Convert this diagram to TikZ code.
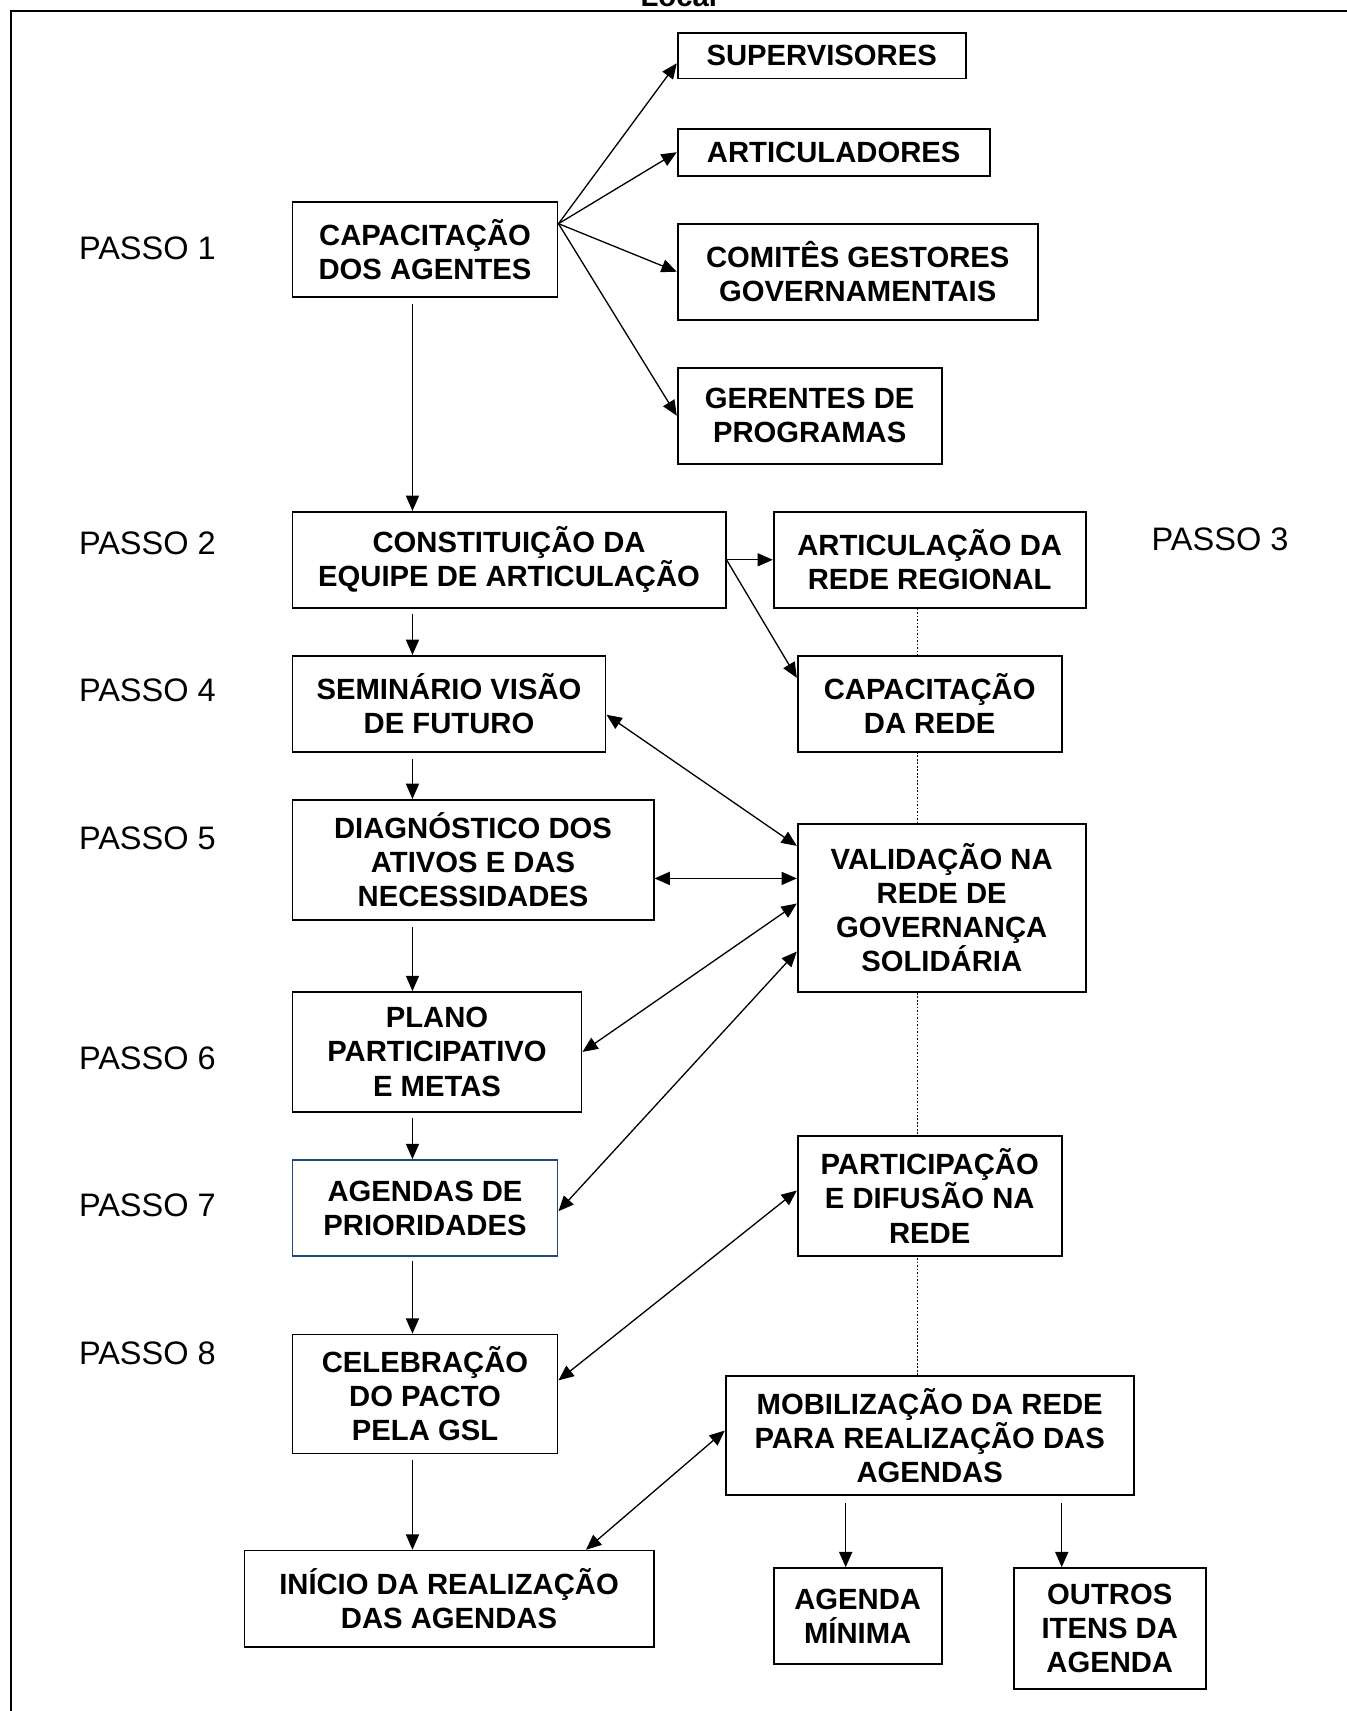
\documentclass[tikz,border=0pt]{standalone}
\usepackage{fontspec}
\setmainfont{Liberation Sans}
\usetikzlibrary{arrows.meta,calc}
\pgfdeclarelayer{bg}
\pgfsetlayers{bg,main}
\definecolor{agblue}{RGB}{31,73,125}
\begin{document}
\begin{tikzpicture}[x=0.5pt,y=-0.5pt,
  box/.style={draw, line width=0.8pt, fill=white, align=center, inner sep=0pt,
    font=\fontsize{13.4}{15.6}\selectfont\bfseries},
  arr/.style={-{Triangle[length=7pt,width=6pt]}, line width=0.6pt},
  darr/.style={{Triangle[length=7pt,width=6pt]}-{Triangle[length=7pt,width=6pt]}, line width=0.6pt},
  passo/.style={anchor=west, inner sep=0pt, font=\fontsize{14.9}{17}\selectfont}]
\useasboundingbox (0,0) rectangle (1234,1568);

% frame and cut-off title
\draw[line width=0.9pt] (10,10) rectangle (1300,1650);
\node[font=\fontsize{13.4}{16}\selectfont\bfseries, anchor=base, inner sep=0pt] (loc) at (622,6) {Local};

% step labels
\node[passo] (p1) at (72,228) {PASSO 1};
\node[passo] (p2) at (72,498) {PASSO 2};
\node[passo] (p3) at (1055,494) {PASSO 3};
\node[passo] (p4) at (72,633) {PASSO 4};
\node[passo] (p5) at (72,768) {PASSO 5};
\node[passo] (p6) at (72,970) {PASSO 6};
\node[passo] (p7) at (72,1105) {PASSO 7};
\node[passo] (p8) at (72,1240) {PASSO 8};

% boxes
\node[box, minimum width=132pt, minimum height=21pt] (sup) at (753,51) {SUPERVISORES};
\node[box, minimum width=143pt, minimum height=21.5pt] (art) at (764,139.5) {ARTICULADORES};
\node[box, minimum width=121.5pt, minimum height=43.5pt] (cap) at (389.5,228.5) {CAPACITAÇÃO\\DOS AGENTES};
\node[box, minimum width=165pt, minimum height=44pt] (com) at (786,249) {COMITÊS GESTORES\\GOVERNAMENTAIS};
\node[box, minimum width=121pt, minimum height=44pt] (ger) at (742,381) {GERENTES DE\\PROGRAMAS};
\node[box, minimum width=198.5pt, minimum height=44pt] (con) at (466.5,513) {CONSTITUIÇÃO DA\\EQUIPE DE ARTICULAÇÃO};
\node[box, minimum width=143pt, minimum height=44pt] (arn) at (852,513) {ARTICULAÇÃO DA\\REDE REGIONAL};
\node[box, minimum width=143.5pt, minimum height=44pt] (sem) at (411.5,645) {SEMINÁRIO VISÃO\\DE FUTURO};
\node[box, minimum width=121pt, minimum height=44pt] (capr) at (852,645) {CAPACITAÇÃO\\DA REDE};
\node[box, minimum width=165.5pt, minimum height=55pt] (dia) at (433.5,788) {DIAGNÓSTICO DOS\\ATIVOS E DAS\\NECESSIDADES};
\node[box, minimum width=132pt, minimum height=77pt] (val) at (863,832) {VALIDAÇÃO NA\\REDE DE\\GOVERNANÇA\\SOLIDÁRIA};
\node[box, minimum width=132.5pt, minimum height=55pt] (pla) at (400.5,964) {PLANO\\PARTICIPATIVO\\E METAS};
\node[box, draw=agblue, minimum width=121.5pt, minimum height=44pt] (age) at (389.5,1107) {AGENDAS DE\\PRIORIDADES};
\node[box, minimum width=121pt, minimum height=55pt] (par) at (852,1096) {PARTICIPAÇÃO\\E DIFUSÃO NA\\REDE};
\node[box, minimum width=121.5pt, minimum height=54.5pt] (cel) at (389.5,1277.5) {CELEBRAÇÃO\\DO PACTO\\PELA GSL};
\node[box, minimum width=187pt, minimum height=54.5pt] (mob) at (852,1315.5) {MOBILIZAÇÃO DA REDE\\PARA REALIZAÇÃO DAS\\AGENDAS};
\node[box, minimum width=187.5pt, minimum height=44pt] (ini) at (411.5,1465) {INÍCIO DA REALIZAÇÃO\\DAS AGENDAS};
\node[box, minimum width=77pt, minimum height=44pt] (agm) at (786,1481) {AGENDA\\MÍNIMA};
\node[box, minimum width=88pt, minimum height=55.5pt] (out) at (1017,1492.5) {OUTROS\\ITENS DA\\AGENDA};

% dotted spine behind right column
\begin{pgfonlayer}{bg}
\draw[line width=0.4pt, dash pattern=on 0.8pt off 0.8pt] ($(arn.south)+(-11,0)$) -- ($(mob.north)+(-11,0)$);
\end{pgfonlayer}

% main vertical chain
\coordinate (ax) at (378,0);
\draw[arr] ($(cap.south -| ax)+(0,6)$) -- (con.north -| ax);
\draw[arr] ($(con.south -| ax)+(0,5)$) -- (sem.north -| ax);
\draw[arr] ($(sem.south -| ax)+(0,6)$) -- (dia.north -| ax);
\draw[arr] ($(dia.south -| ax)+(0,6)$) -- (pla.north -| ax);
\draw[arr] ($(pla.south -| ax)+(0,5)$) -- (age.north -| ax);
\draw[arr] ($(age.south -| ax)+(0,4)$) -- (cel.north -| ax);
\draw[arr] ($(cel.south -| ax)+(0,5)$) -- (ini.north -| ax);

% fan from step 1
\coordinate (cs) at ($(cap.east)+(0,-23.5)$);
\draw[arr] (cs) -- ($(sup.west)+(0,7)$);
\draw[arr] (cs) -- (art.west);
\draw[arr] (cs) -- (com.west);
\draw[arr] (cs) -- (ger.west);

% step 2 to step 3
\draw[arr] (con.east) -- (arn.west);
\draw[arr] (con.east) -- ($(capr.north west)+(0,21)$);

% two-way links
\draw[darr] ($(sem.east)+(0,10)$) -- ($(val.north west)+(0,21)$);
\draw[darr] ($(dia.east)+(0,17)$) -- ($(dia.east -| val.west)+(0,17)$);
\draw[darr] (pla.east) -- ($(val.west)+(0,-4)$);
\draw[darr] ($(age.east)+(0,3)$) -- ($(val.west)+(0,40)$);
\draw[darr] ($(cel.east)+(0,-12.5)$) -- ($(par.west)+(0,-5)$);
\draw[darr] ($(ini.north)+(125.5,0)$) -- ($(mob.west)+(0,-4.5)$);

% mobilisation outputs
\draw[arr] ($(mob.south)+(-77,7)$) -- ($(agm.north)+(-11,0)$);
\draw[arr] ($(mob.south)+(121,7)$) -- ($(out.north)+(-44,0)$);
\end{tikzpicture}
\end{document}
